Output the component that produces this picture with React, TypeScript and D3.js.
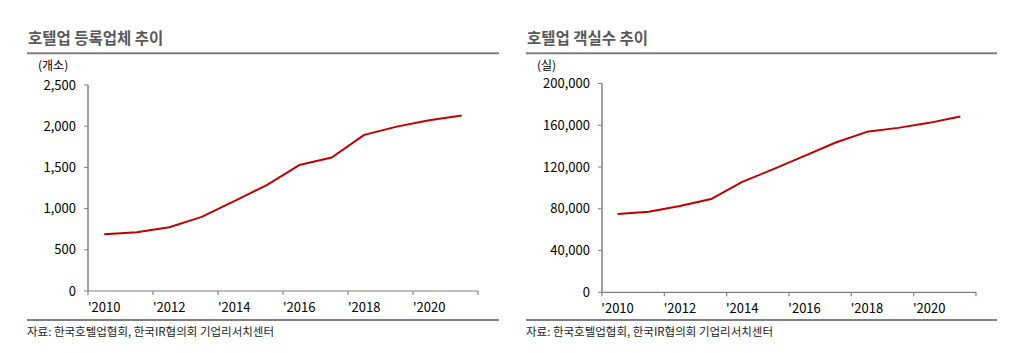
import React from "react";
import * as d3 from "d3";

const years = ["2010", "2011", "2012", "2013", "2014", "2015", "2016", "2017", "2018", "2019", "2020", "2021"];
const hotelCount = [690, 712, 773, 900, 1090, 1285, 1528, 1620, 1895, 1995, 2072, 2130];
const roomCount = [74900, 77100, 82600, 89300, 105800, 118000, 130700, 143500, 153700, 157500, 162300, 168400];
const countTicks = [0, 500, 1000, 1500, 2000, 2500];
const roomTicks = [0, 40000, 80000, 120000, 160000, 200000];

const FONT = "'Noto Sans CJK KR', 'Noto Sans', sans-serif";
const RED = "#c00000";
const fmt = d3.format(",");

type PanelProps = {
  title: string;
  unit: string;
  values: number[];
  ticks: number[];
  left: number; // panel left edge (rules)
  right: number;
  axisX: number;
  plotRight: number;
  top: number; // y of max tick
  bottom: number; // y of zero
};

function Panel({ title, unit, values, ticks, left, right, axisX, plotRight, top, bottom }: PanelProps) {
  const x = d3.scaleBand<string>().domain(years).range([axisX, plotRight]).padding(0);
  const y = d3.scaleLinear().domain([0, d3.max(ticks) as number]).range([bottom, top]);
  const line = d3
    .line<number>()
    .x((_, i) => (x(years[i]) as number) + x.bandwidth() / 2)
    .y((d) => y(d));

  // tick marks at category boundaries, every 2nd category, plus the end
  const xTicks = years.filter((_, i) => i % 2 === 0).map((yr) => x(yr) as number).concat([plotRight]);

  return (
    <g>
      <text x={left + 1} y={44} fontFamily={FONT} fontSize={15.5} fontWeight="bold" fill="#595959">
        {title}
      </text>
      <line x1={left} x2={right} y1={53.3} y2={53.3} stroke="#808080" strokeWidth={2} />
      <text x={left + 11} y={70} fontFamily={FONT} fontSize={12} fill="#000">
        {unit}
      </text>

      {/* y axis */}
      <line x1={axisX} x2={axisX} y1={top} y2={bottom} stroke="#a0a0a0" strokeWidth={2} />
      {ticks.map((t) => (
        <g key={t}>
          <line x1={axisX - 4} x2={axisX} y1={y(t)} y2={y(t)} stroke="#808080" strokeWidth={1} />
          <text x={axisX - 12} y={y(t)} dy="0.35em" textAnchor="end" fontFamily={FONT} fontSize={13} fill="#000">
            {fmt(t)}
          </text>
        </g>
      ))}

      {/* x axis */}
      <line x1={axisX} x2={plotRight} y1={bottom} y2={bottom} stroke="#808080" strokeWidth={1.2} />
      {xTicks.map((tx, i) => (
        <line key={i} x1={tx} x2={tx} y1={bottom} y2={bottom + 4} stroke="#808080" strokeWidth={1.2} />
      ))}
      {years
        .filter((_, i) => i % 2 === 0)
        .map((yr) => (
          <text
            key={yr}
            x={(x(yr) as number) + x.bandwidth() / 2}
            y={bottom + 21}
            textAnchor="middle"
            fontFamily={FONT}
            fontSize={13}
            fill="#000"
          >
            {"'" + yr}
          </text>
        ))}

      <path d={line(values) ?? ""} fill="none" stroke={RED} strokeWidth={2} strokeLinejoin="round" />

      <line x1={left} x2={right} y1={320} y2={320} stroke="#808080" strokeWidth={2} />
      <text x={left} y={336} fontFamily={FONT} fontSize={11.5} fill="#222">
        자료: 한국호텔업협회, 한국IR협의회 기업리서치센터
      </text>
    </g>
  );
}

export default function App() {
  return (
    <svg
      width={1034}
      height={353}
      style={{ position: "absolute", left: 0, top: 0, background: "#fff" }}
    >
      <Panel
        title="호텔업 등록업체 추이"
        unit="(개소)"
        values={hotelCount}
        ticks={countTicks}
        left={27}
        right={499}
        axisX={88}
        plotRight={478}
        top={85}
        bottom={291}
      />
      <Panel
        title="호텔업 객실수 추이"
        unit="(실)"
        values={roomCount}
        ticks={roomTicks}
        left={526}
        right={997}
        axisX={602}
        plotRight={976}
        top={83.5}
        bottom={292.3}
      />
    </svg>
  );
}
